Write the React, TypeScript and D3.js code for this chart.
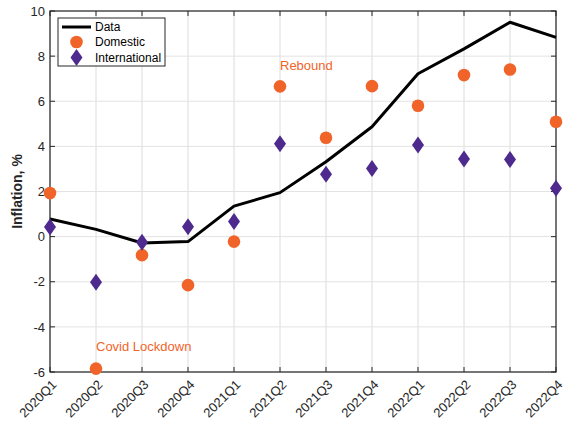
import React from "react";
import * as d3 from "d3";

const categories = ["2020Q1","2020Q2","2020Q3","2020Q4","2021Q1","2021Q2","2021Q3","2021Q4","2022Q1","2022Q2","2022Q3","2022Q4"];
const dataSeries = [0.78, 0.32, -0.28, -0.22, 1.35, 1.95, 3.32, 4.87, 7.22, 8.32, 9.5, 8.83];
const domestic = [1.93, -5.85, -0.82, -2.15, -0.22, 6.66, 4.38, 6.67, 5.8, 7.16, 7.41, 5.09];
const international = [0.43, -2.02, -0.25, 0.44, 0.67, 4.12, 2.77, 3.02, 4.06, 3.44, 3.42, 2.14];
const yTicks = [-6, -4, -2, 0, 2, 4, 6, 8, 10];
const annotations = [
  { text: "Rebound", cat: "2021Q2", value: 7.4 },
  { text: "Covid Lockdown", cat: "2020Q2", value: -5.05 },
];

const W = 565, H = 423;
const m = { left: 50, right: 9, top: 11, bottom: 51 };
const ORANGE = "#F0642A";
const PURPLE = "#4E2A8E";
const AX = "#262626";
const FONT = "'Liberation Sans', Arial, Helvetica, sans-serif";

export default function App() {
  const x = d3.scalePoint<string>().domain(categories).range([m.left, W - m.right]);
  const y = d3.scaleLinear().domain([-6, 10]).range([H - m.bottom, m.top]);
  const line = d3.line<number>().x((_, i) => x(categories[i])!).y(d => y(d));
  const x0 = m.left, x1 = W - m.right, y0 = H - m.bottom, y1 = m.top;
  const diamond = (cx: number, cy: number) => `M${cx},${cy - 8.5}L${cx + 6},${cy}L${cx},${cy + 8.5}L${cx - 6},${cy}Z`;
  return (
    <svg width={W} height={H} style={{ position: "absolute", left: 0, top: 0, fontFamily: FONT }}>
      <rect width={W} height={H} fill="#fff" />
      {/* grid */}
      {categories.map(c => (
        <line key={"gx" + c} x1={x(c)} x2={x(c)} y1={y0} y2={y1} stroke="#dcdcdc" strokeWidth={1} />
      ))}
      {yTicks.map(t => (
        <line key={"gy" + t} x1={x0} x2={x1} y1={y(t)} y2={y(t)} stroke="#e3e3e3" strokeWidth={1} />
      ))}
      {/* ticks */}
      {categories.map(c => (
        <g key={"tx" + c}>
          <line x1={x(c)} x2={x(c)} y1={y0} y2={y0 - 5} stroke={AX} />
          <line x1={x(c)} x2={x(c)} y1={y1} y2={y1 + 5} stroke={AX} />
        </g>
      ))}
      {yTicks.map(t => (
        <g key={"ty" + t}>
          <line x1={x0} x2={x0 + 5} y1={y(t)} y2={y(t)} stroke={AX} />
          <line x1={x1} x2={x1 - 5} y1={y(t)} y2={y(t)} stroke={AX} />
          <text x={x0 - 5} y={y(t)} dy="0.36em" textAnchor="end" fontSize={13} fill={AX}>{t}</text>
        </g>
      ))}
      {/* box */}
      <rect x={x0} y={y1} width={x1 - x0} height={y0 - y1} fill="none" stroke={AX} strokeWidth={1.2} />
      {/* x labels */}
      {categories.map(c => (
        <text key={"lx" + c} transform={`translate(${x(c)! + 1},${y0 + 7}) rotate(-45)`} textAnchor="end" dy="0.7em" fontSize={13} fill={AX}>{c}</text>
      ))}
      {/* y label */}
      <text transform={`translate(22,${(y0 + y1) / 2}) rotate(-90)`} textAnchor="middle" fontSize={14} fontWeight="bold" fill={AX}>Inflation, %</text>
      {/* data line */}
      <path d={line(dataSeries)!} fill="none" stroke="#000" strokeWidth={3} strokeLinejoin="round" />
      {domestic.map((v, i) => (
        <circle key={"d" + i} cx={x(categories[i])} cy={y(v)} r={6.3} fill={ORANGE} />
      ))}
      {international.map((v, i) => (
        <path key={"i" + i} d={diamond(x(categories[i])!, y(v))} fill={PURPLE} />
      ))}
      {annotations.map(a => (
        <text key={a.text} x={x(a.cat)} y={y(a.value)} fontSize={13} fill={ORANGE}>{a.text}</text>
      ))}
      {/* legend */}
      <g>
        <rect x={58} y={18} width={107} height={48} fill="#fff" stroke={AX} strokeWidth={1} />
        <line x1={62} x2={91} y1={27} y2={27} stroke="#000" strokeWidth={3} />
        <text x={95} y={27} dy="0.36em" fontSize={12} fill="#000">Data</text>
        <circle cx={76.5} cy={42} r={6.3} fill={ORANGE} />
        <text x={95} y={42} dy="0.36em" fontSize={12} fill="#000">Domestic</text>
        <path d={diamond(76.5, 57.5)} fill={PURPLE} />
        <text x={95} y={57.5} dy="0.36em" fontSize={12} fill="#000">International</text>
      </g>
    </svg>
  );
}
